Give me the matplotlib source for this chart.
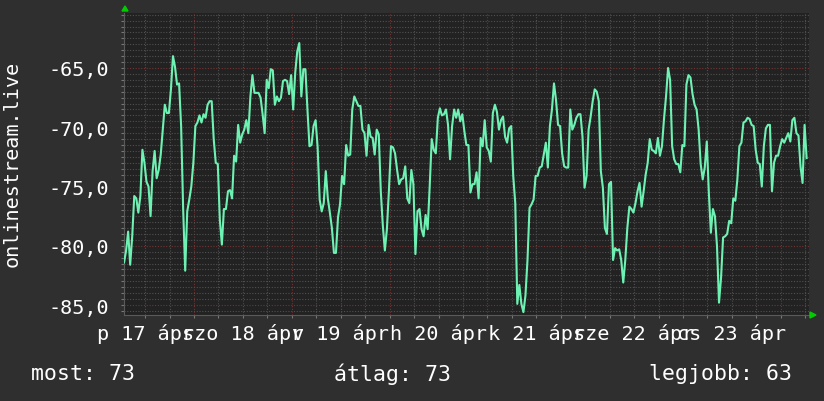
import matplotlib
matplotlib.use("Agg")
import matplotlib.pyplot as plt
import matplotlib.dates as mdates
from matplotlib.ticker import MultipleLocator, FuncFormatter
import numpy as np
import pandas as pd

# ---- data ----
start_time = "2015-04-17 06:50"
step_minutes = 30
signal_dbm = [
    -81.4, -80.4, -78.8, -81.6, -79.2, -75.8, -76.0, -77.2, -75.8, -71.9,
    -73.0, -74.6, -75.0, -77.5, -73.7, -72.0, -74.3, -73.6, -72.3, -70.2,
    -68.1, -68.8, -68.8, -66.8, -64.0, -64.9, -66.4, -66.3, -69.9, -76.9,
    -82.1, -77.1, -76.1, -75.0, -73.0, -69.9, -69.6, -69.0, -69.6, -68.9,
    -69.2, -68.1, -67.8, -67.8, -71.0, -73.0, -73.1, -77.8, -79.9, -76.9,
    -76.9, -75.4, -75.3, -76.0, -72.4,
    -72.9, -69.8, -71.3, -70.6, -70.2, -69.4, -70.5, -67.4, -65.6, -67.1,
    -67.1, -67.1, -67.5, -68.9, -70.5, -66.0, -66.7, -65.1, -65.2, -68.1,
    -67.4, -67.8, -67.5, -66.1, -66.0, -66.1, -67.2, -65.6, -68.5, -65.4,
    -63.6, -62.9, -67.4, -65.1, -65.1, -68.5, -71.6, -71.5, -69.9, -69.4,
    -71.7, -76.1, -77.1, -76.4, -73.7, -76.0, -77.2, -78.5, -80.6, -80.6,
    -77.6, -76.5, -74.1, -74.8, -71.5, -72.4,
    -72.3, -68.5, -67.4, -67.8, -68.2, -68.2, -70.2, -70.5, -72.4, -69.8,
    -70.8, -70.9, -72.3, -70.2, -70.6, -75.4, -78.3, -80.4, -78.6, -75.3,
    -71.6, -71.7, -72.2, -73.6, -74.8, -74.4, -74.3, -73.3, -76.0, -76.4,
    -73.6, -74.8, -80.7, -77.1, -76.9, -78.6, -79.2, -77.4, -78.6, -75.0,
    -71.0, -71.9, -72.2, -69.2, -68.4, -69.0, -68.9, -68.5, -69.8, -72.7,
    -69.9, -68.5, -69.2, -68.5, -69.5, -68.9, -70.3,
    -71.5, -71.5, -75.5, -74.8, -74.8, -73.8, -76.0, -70.9, -71.6, -69.4,
    -71.7, -72.0, -72.9, -68.8, -68.1, -68.7, -70.2, -69.4, -69.1, -70.8,
    -71.3, -70.1, -69.9, -74.1, -76.4, -84.9, -83.3, -84.9, -85.6, -84.2,
    -81.2, -76.8, -76.5, -76.1, -74.1, -74.1, -73.4, -73.3, -72.3, -71.3,
    -73.4, -69.9, -68.5, -66.3, -67.7, -69.8, -69.9, -72.2, -73.3, -73.4,
    -73.4, -68.5, -70.2, -69.8, -69.2, -68.9,
    -68.9, -70.8, -75.1, -74.1, -70.2, -69.1, -67.8, -66.8, -67.0, -67.8,
    -73.7, -75.1, -78.5, -79.0, -74.8, -74.6, -81.2, -80.2, -80.4, -80.3,
    -81.2, -83.1, -81.2, -78.5, -76.7, -76.9, -77.2, -76.4, -75.4, -74.7,
    -76.7, -75.4, -74.0, -73.0, -71.0, -71.9, -72.0, -72.2, -70.9, -72.4,
    -71.6, -69.3, -67.4, -65.0, -66.0, -71.6, -72.7, -73.1, -73.1, -73.8,
    -71.5, -71.6, -66.4, -65.6, -65.8, -67.2, -68.1,
    -68.5, -70.2, -73.1, -74.4, -73.4, -71.2, -75.5, -78.9, -76.9, -77.5,
    -80.0, -84.8, -82.7, -79.3, -79.2, -79.0, -77.9, -78.1, -76.0, -76.2,
    -74.4, -71.6, -71.3, -69.6, -69.5, -69.2, -69.3, -69.8, -69.9, -71.9,
    -73.0, -73.1, -75.0, -71.6, -70.1, -69.8, -69.8, -75.4, -73.0, -72.4,
    -72.4, -71.6, -71.0, -71.3, -70.9, -70.5, -71.2, -69.4, -69.2, -70.5,
    -70.7, -73.3, -74.7, -69.8, -72.6,
]
x_start = "2015-04-17 06:49"
x_end = "2015-04-24 06:55"
y_min, y_max = -85.84, -60.36
day_labels = ["p 17 ápr", "szo 18 ápr", "v 19 ápr", "h 20 ápr",
              "k 21 ápr", "sze 22 ápr", "cs 23 ápr"]
label_days = pd.date_range("2015-04-17 12:00", periods=7, freq="D")
y_title = "onlinestream.live"
legend_items = ["most: 73", "átlag: 73", "legjobb: 63"]

# ---- style ----
BG = "#2f2f2f"
PLOT_BG = "#222222"
MINOR = "#505050"
MAJOR = "#743333"
LINE = "#6ef2b4"
TXT = "#ffffff"
FONT = "DejaVu Sans Mono"
FS = 14.5
FS_LEG = 15.5

times = pd.date_range(start_time, periods=len(signal_dbm), freq=f"{step_minutes}min")

fig = plt.figure(figsize=(8.24, 4.02), dpi=100, facecolor=BG)
ax = fig.add_axes([124/824, 1-316/402, 685/824, 302/402])
ax.set_facecolor(PLOT_BG)

ax.plot(times, signal_dbm, color=LINE, lw=1.5, zorder=3)

ax.set_xlim(pd.Timestamp(x_start), pd.Timestamp(x_end))
ax.set_ylim(y_min, y_max)

ax.xaxis.set_major_locator(mdates.DayLocator())
ax.xaxis.set_minor_locator(mdates.HourLocator(byhour=[6, 12, 18]))
ax.xaxis.set_major_formatter(plt.NullFormatter())
ax.yaxis.set_major_locator(MultipleLocator(5))
ax.yaxis.set_minor_locator(MultipleLocator(0.5))
ax.yaxis.set_major_formatter(FuncFormatter(lambda v, p: f"{v:.1f}".replace(".", ",")))

ax.grid(which="minor", color=MINOR, lw=0.8, linestyle=(0, (1, 1.5)))
ax.grid(which="major", color=MAJOR, lw=0.8, linestyle=(0, (1, 1.5)))
ax.set_axisbelow(True)

ax.tick_params(axis="both", which="both", colors="#777777", length=2, width=0.8)
ax.tick_params(axis="y", which="major", labelcolor=TXT, labelsize=FS, pad=9)
for lbl in ax.get_yticklabels():
    lbl.set_fontfamily(FONT)

for s in ["top", "right"]:
    ax.spines[s].set_visible(False)
for s in ["left", "bottom"]:
    ax.spines[s].set_color("#5a5a5a")
    ax.spines[s].set_linewidth(0.8)

for d, lab in zip(label_days, day_labels):
    ax.text(d, -0.058, lab, transform=ax.get_xaxis_transform(), ha="center", va="center",
            color=TXT, fontsize=FS, family=FONT)

fig.text(12/824, 1-164/402, y_title, rotation=90, ha="center", va="center",
         color=TXT, fontsize=FS, family=FONT)

fig.text(31/824, 1-374/402, legend_items[0], ha="left", va="center", color=TXT, fontsize=FS_LEG, family=FONT)
fig.text(334/824, 1-374/402, legend_items[1], ha="left", va="center", color=TXT, fontsize=FS_LEG, family=FONT)
fig.text(792/824, 1-374/402, legend_items[2], ha="right", va="center", color=TXT, fontsize=FS_LEG, family=FONT)

# axis arrows
fig.patches.append(plt.Polygon([[122/824, 1-12/402], [128/824, 1-12/402], [125/824, 1-7/402]],
                               closed=True, color="#00cc00", transform=fig.transFigure, figure=fig))
fig.patches.append(plt.Polygon([[810/824, 1-313/402], [810/824, 1-319/402], [816/824, 1-316/402]],
                               closed=True, color="#00cc00", transform=fig.transFigure, figure=fig))

fig.savefig("out.png", dpi=100, facecolor=BG)
